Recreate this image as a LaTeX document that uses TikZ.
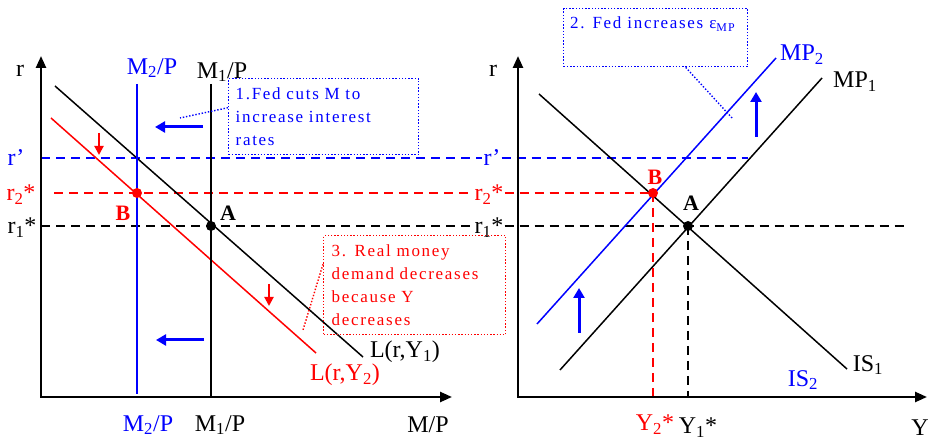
\documentclass[tikz,border=0pt]{standalone}
\usepackage{fontspec}
\setmainfont{Liberation Serif}
\newfontfamily\spacedfont[LetterSpace=10]{Liberation Serif}
\usetikzlibrary{arrows.meta}
\definecolor{pblue}{RGB}{0,0,255}
\definecolor{pred}{RGB}{255,0,0}
\begin{document}
\begin{tikzpicture}[x=1pt,y=-1pt,
  lbl/.style={font=\fontsize{24}{28}\selectfont, inner sep=1pt},
  rlbl/.style={font=\fontsize{24}{28}\selectfont, inner sep=1pt, anchor=base},
  ptlbl/.style={font=\fontsize{22}{26}\selectfont\bfseries, inner sep=1pt},
  axisline/.style={line width=2.5pt, {Triangle[length=12pt,width=10pt]}-{Triangle[length=12pt,width=10pt]}},
  curve/.style={line width=1.5pt},
  dsh/.style={line width=2pt, dash pattern=on 9pt off 6pt},
  bigarrow/.style={pblue, line width=3pt, -{Triangle[length=10pt,width=11pt]}},
  redarrow/.style={pred, line width=2pt, -{Triangle[length=9pt,width=9pt]}},
  note/.style={draw, line width=1.4pt, dash pattern=on 1.4pt off 1.8pt},
  notetext/.style={font=\spacedfont\fontsize{17}{23.3}\selectfont, align=left},
  dot/.style={circle, fill, inner sep=0pt, minimum size=10pt}
]
\useasboundingbox (0,0) rectangle (932,443);

% ---------------- coordinates ----------------
\coordinate (o1) at (41,397);
\coordinate (y1top) at (41,56);
\coordinate (x1end) at (452,397);
\coordinate (o2) at (518,397);
\coordinate (y2top) at (518,56);
\coordinate (x2end) at (927,397);

\coordinate (L1a) at (55,86);   \coordinate (L1b) at (363,357);
\coordinate (L2a) at (51,118);  \coordinate (L2b) at (316,353);
\coordinate (M2a) at (137,84);  \coordinate (M2b) at (137,394);
\coordinate (M1a) at (211,84);  \coordinate (M1b) at (211,397);

\coordinate (MP1a) at (560,370); \coordinate (MP1b) at (822,78);
\coordinate (MP2a) at (537,324); \coordinate (MP2b) at (776,58);
\coordinate (ISa) at (539,94);   \coordinate (ISb) at (847,369);

\coordinate (rpS) at (41,158);   \coordinate (rpE) at (748,158);
\coordinate (r2S) at (54,193);
\coordinate (r1S) at (41,226);   \coordinate (r1E) at (905,226);
\coordinate (Y2b) at (653,397);  \coordinate (Y1b) at (688,397);

% ---------------- axis labels ----------------
\node[lbl] (rl) at (20,71) {r};
\node[lbl] (rr) at (493,71) {r};
\node[lbl] (mpax) at (428,425) {M/P};
\node[lbl] (yax) at (920,428) {Y};

\node[rlbl,pblue] (rpL) at (16,166) {r\symbol{39}};
\node[rlbl,pred] (r2L) at (21,201) {r\textsubscript{2}*};
\node[rlbl] (r1L) at (22,234) {r\textsubscript{1}*};
\node[rlbl,pblue] (rpR) at (492,166) {r\symbol{39}};
\node[rlbl,pred] (r2R) at (489,201) {r\textsubscript{2}*};
\node[rlbl] (r1R) at (489,234) {r\textsubscript{1}*};

% ---------------- dashed levels ----------------
\draw[dsh,pblue] (rpS) -- ([yshift=8pt]rpR.base west);
\draw[dsh,pblue] ([yshift=8pt]rpR.base east) -- (rpE);
\draw[dsh,pred] (r2S) -- ([yshift=8pt]r2R.base west);
\draw[dsh] (r1S) -- ([yshift=8pt]r1R.base west);
\draw[dsh] ([yshift=8pt]r1R.base east) -- (r1E);

% ---------------- left panel curves ----------------
\draw[curve] (L1a) -- (L1b);
\draw[curve,pred] (L2a) -- (L2b);
\draw[curve,pblue] (M2a) -- (M2b);
\draw[curve] (M1a) -- (M1b);

% ---------------- right panel curves ----------------
\draw[curve] (MP1a) -- (MP1b);
\draw[curve,pblue] (MP2a) -- (MP2b);
\draw[curve] (ISa) -- (ISb);

% ---------------- points ----------------
\node[dot] (A1) at (211,226) {};
\node[dot,pred] (B1) at (137,193) {};
\node[dot] (A2) at (688,226) {};
\node[dot,pred] (B2) at (653,193) {};

\draw[dsh,pred] ([yshift=8pt]r2R.base east) -- (B2.center);
\draw[dsh,pred] (B2.center) -- (Y2b);
\draw[dsh] (A2.center) -- (Y1b);

% ---------------- axes ----------------
\draw[axisline] (y1top) -- (o1) -- (x1end);
\draw[axisline] (y2top) -- (o2) -- (x2end);

% ---------------- point labels ----------------
\node[ptlbl] (Al1) at (228,213) {A};
\node[ptlbl,pred] (Bl1) at (123,213) {B};
\node[ptlbl] (Al2) at (691,203) {A};
\node[ptlbl,pred] (Bl2) at (655,177) {B};

% ---------------- curve labels ----------------
\node[lbl,pblue] (m2top) at (152,68) {M\textsubscript{2}/P};
\node[lbl] (m1top) at (222,72) {M\textsubscript{1}/P};
\node[lbl,pblue] (m2bot) at (148,425) {M\textsubscript{2}/P};
\node[lbl] (m1bot) at (220,425) {M\textsubscript{1}/P};
\node[lbl] (L1lab) at (405,352) {L(r,Y\textsubscript{1})};
\node[lbl,pred] (L2lab) at (345,375) {L(r,Y\textsubscript{2})};
\node[lbl,pblue] (mp2lab) at (802,55) {MP\textsubscript{2}};
\node[lbl] (mp1lab) at (855,82) {MP\textsubscript{1}};
\node[lbl] (is1lab) at (868,365) {IS\textsubscript{1}};
\node[lbl,pblue] (is2lab) at (803,380) {IS\textsubscript{2}};
\node[lbl,pred] (y2lab) at (655,425) {Y\textsubscript{2}*};
\node[lbl] (y1lab) at (698,428) {Y\textsubscript{1}*};

% ---------------- shift arrows ----------------
\coordinate (ba1s) at (203,127); \coordinate (ba1e) at (155,127);
\coordinate (ba2s) at (204,340); \coordinate (ba2e) at (156,340);
\draw[bigarrow] (ba1s) -- (ba1e);
\draw[bigarrow] (ba2s) -- (ba2e);
\coordinate (ra1s) at (99,133);  \coordinate (ra1e) at (99,155);
\coordinate (ra2s) at (269,284); \coordinate (ra2e) at (269,306);
\draw[redarrow] (ra1s) -- (ra1e);
\draw[redarrow] (ra2s) -- (ra2e);
\coordinate (ua1s) at (756,137); \coordinate (ua1e) at (756,92);
\coordinate (ua2s) at (579,333); \coordinate (ua2e) at (579,288);
\draw[bigarrow] (ua1s) -- (ua1e);
\draw[bigarrow] (ua2s) -- (ua2e);

% ---------------- notes ----------------
\node[note,pblue,notetext,text=pblue,anchor=north west,inner xsep=7pt,inner ysep=0pt,
      text width=176pt,minimum height=76pt] (box1) at (228,78)
  {1.Fed cuts M to\\increase interest\\rates};
\coordinate (c1e) at (180,118);
\draw[note,draw=pblue] ([yshift=9pt]box1.west) -- (c1e);

\node[note,pblue,anchor=north west,minimum width=184pt,minimum height=58pt,inner sep=0pt] (box2) at (563,8) {};
\node[notetext,text=pblue,anchor=west,inner sep=0pt] (t2) at (570,24)
  {2. Fed increases {\fontsize{17}{17}\selectfont ε\textsubscript{MP}}};
\coordinate (c2e) at (732,118);
\draw[note,draw=pblue] ([xshift=30pt]box2.south) -- (c2e);

\node[note,pred,notetext,text=pred,anchor=north west,inner xsep=8pt,inner ysep=0pt,
      text width=166pt,minimum height=99pt] (box3) at (323,235)
  {3. Real money\\demand decreases\\because Y\\decreases};
\coordinate (c3e) at (303,330);
\draw[note,draw=pred] ([yshift=21pt]box3.west) -- (c3e);

\end{tikzpicture}
\end{document}
